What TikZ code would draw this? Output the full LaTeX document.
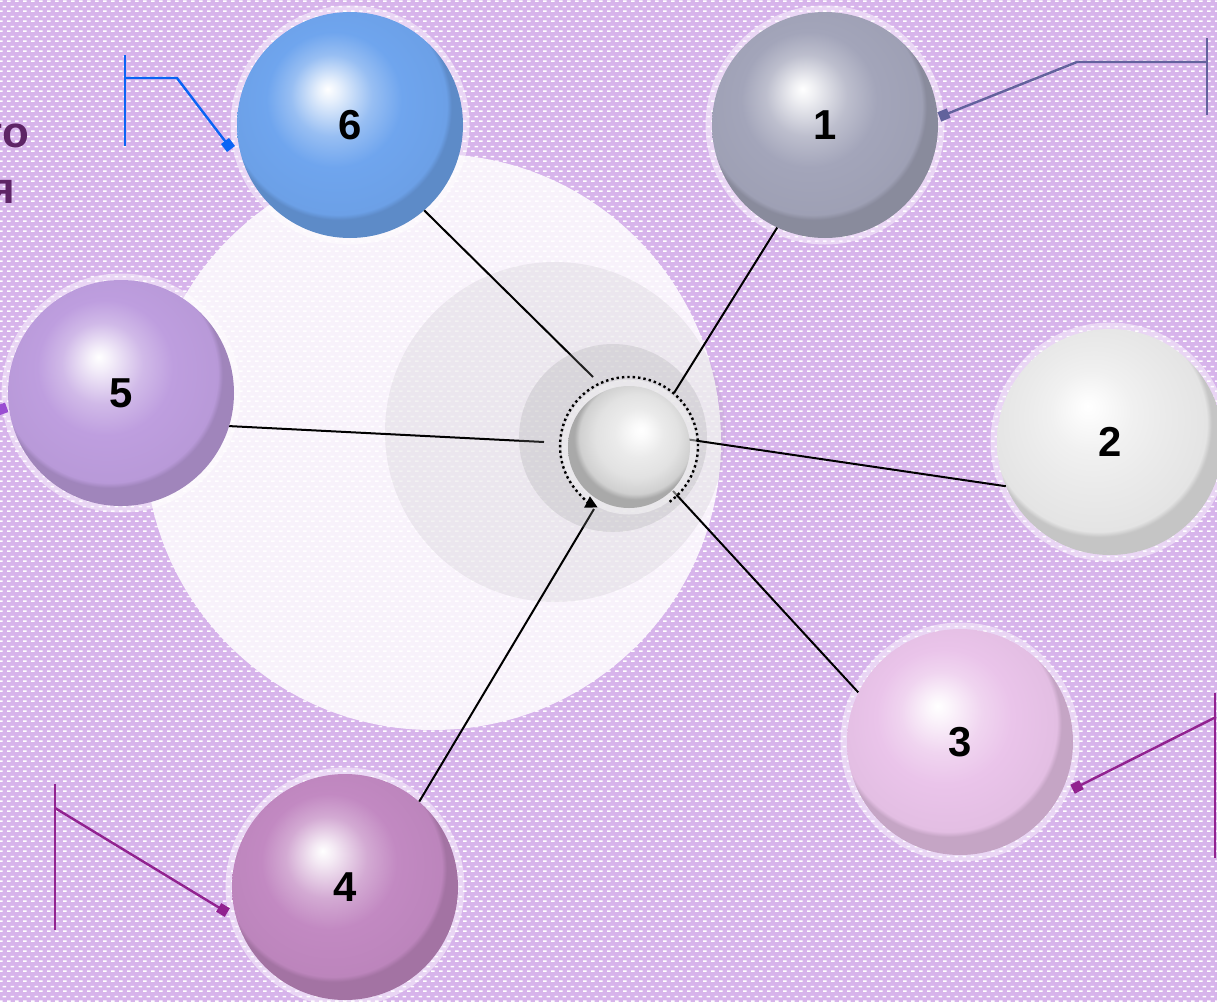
\documentclass[tikz,border=0pt]{standalone}
\usepackage{fontspec}
\setmainfont{Liberation Sans}
\usetikzlibrary{arrows.meta,patterns}

\pgfdeclarepatternformonly{bgdash}{\pgfqpoint{0bp}{0bp}}{\pgfqpoint{8bp}{9.6bp}}{\pgfqpoint{8bp}{9.6bp}}{%
  \pgfpathrectangle{\pgfqpoint{0bp}{0bp}}{\pgfqpoint{4bp}{1.7bp}}%
  \pgfpathrectangle{\pgfqpoint{4bp}{4.8bp}}{\pgfqpoint{4bp}{1.7bp}}%
  \pgfusepath{fill}}

\pgfdeclareradialshading[sphbase]{glossyL}{\pgfqpoint{-5bp}{8bp}}{%
  color(0bp)=(white); color(2.5bp)=(white!82!sphbase); color(9bp)=(sphbase!72!white);
  color(15bp)=(sphbase); color(24bp)=(sphbase!97!black); color(25bp)=(sphbase!84!black);
  color(50bp)=(sphbase!84!black)}
\pgfdeclareradialshading[sphbase]{glossyR}{\pgfqpoint{5bp}{7bp}}{%
  color(0bp)=(white); color(3bp)=(white!85!sphbase); color(10bp)=(sphbase!70!white);
  color(17bp)=(sphbase); color(23bp)=(sphbase!92!black); color(25bp)=(sphbase!75!black);
  color(50bp)=(sphbase!75!black)}

\definecolor{bglav}{HTML}{D7B4EB}
\definecolor{c6}{HTML}{6FA5EE}
\definecolor{c1}{HTML}{A3A5BA}
\definecolor{c2}{HTML}{EBEBEB}
\definecolor{c5}{HTML}{BE9EDF}
\definecolor{c3}{HTML}{EAC4EA}
\definecolor{c4}{HTML}{C289C2}
\definecolor{cc}{HTML}{E2E2E2}
\definecolor{lblue}{HTML}{0A64F5}
\definecolor{lgray}{HTML}{62629C}
\definecolor{lpurp}{HTML}{91228F}
\definecolor{lviol}{HTML}{9A4ED2}
\definecolor{txtp}{HTML}{5E2566}

\tikzset{
  sphcol/.code={\colorlet{sphbase}{#1}},
  halo/.style={preaction={draw=white, draw opacity=0.45, line width=13bp}},
  sphere/.style={circle, minimum size=226bp, inner sep=0pt, halo, shade, shading=glossyL,
    font=\fontsize{42}{48}\selectfont\bfseries, text=black},
  connector/.style={draw=black, line width=2bp},
  callout/.style={line width=2.4bp},
  bar/.style={line width=2.4bp},
  marker/.style={rectangle, minimum size=10bp, inner sep=0pt},
  dotline/.style={line width=2.4bp, dash pattern=on 2.4bp off 3bp},
  sidetext/.style={anchor=base east, inner sep=0pt, text=txtp,
    font=\fontsize{44}{50}\selectfont\bfseries}
}

\begin{document}
\begin{tikzpicture}[x=1bp, y=-1bp]
\useasboundingbox (0,0) rectangle (1217,1002);
\clip (0,0) rectangle (1217,1002);

% background
\fill[bglav] (0,0) rectangle (1217,1002);
\fill[pattern=bgdash, pattern color=white] (0,0) rectangle (1217,1002);

% side texts (cut at the left edge, as in the reference)
\node[sidetext] (t1) at (29,147) {то};
\node[sidetext] (t2) at (15,203) {я};

% backdrop discs
\fill[white, opacity=0.84] (433,442) circle[radius=288];
\fill[gray, opacity=0.10] (555,432) circle[radius=170];

% spheres
\node[sphere, sphcol=c6] (s6) at (350,125) {6};
\node[sphere, sphcol=c1] (s1) at (825,125) {1};
\node[sphere, sphcol=c2] (s2) at (1110,442) {2};
\node[sphere, sphcol=c5] (s5) at (121,393) {5};
\node[sphere, sphcol=c3] (s3) at (960,742) {3};
\node[sphere, sphcol=c4] (s4) at (345,887) {4};

% connector end points near the centre
\coordinate (e6) at (593,377);
\coordinate (e1) at (674,393);
\coordinate (e2) at (685,439);
\coordinate (e5) at (544,442);
\coordinate (e3) at (673,491);
\coordinate (e4) at (594,509);

% these three pass under the darker disc and look grey inside it
\draw[connector] (s6.-49) -- (e6);
\draw[connector] (s5.-17) -- (e5);
\draw[connector] (s4.49) -- (e4);

\fill[gray!80, opacity=0.22] (613,438) circle[radius=94];

\draw[connector] (s1.245) -- (e1);
\draw[connector] (s2.203) -- (e2);
\draw[connector] (s3.154) -- (e3);

% centre sphere
\node[circle, minimum size=122bp, inner sep=0pt, sphcol=cc, halo, shade, shading=glossyR] (c) at (629,447) {};

% dotted circular arrow
\coordinate (d0) at (669.6,501.8);
\draw[dotline, -{Triangle[length=12bp,width=12bp]}] (d0) arc[start angle=54, end angle=-243, radius=69];

% callouts
% 6
\node[marker, fill=lblue, rotate=37] (m6) at (228,145) {};
\coordinate (k6) at (177,78);
\coordinate (h6) at (125,78);
\coordinate (b6a) at (125,55);
\coordinate (b6b) at (125,146);
\draw[callout, lblue] (m6.center) -- (k6) -- (h6);
\draw[bar, lblue] (b6a) -- (b6b);
% 1
\node[marker, fill=lgray, rotate=22] (m1) at (944,115) {};
\coordinate (k1) at (1077,62);
\coordinate (h1) at (1207,62);
\coordinate (b1a) at (1207,38);
\coordinate (b1b) at (1207,115);
\draw[callout, lgray] (m1.center) -- (k1) -- (h1);
\draw[bar, lgray] (b1a) -- (b1b);
% 3
\node[marker, fill=lpurp, rotate=27] (m3) at (1077,787) {};
\coordinate (k3) at (1216,717);
\coordinate (b3a) at (1215,693);
\coordinate (b3b) at (1215,858);
\draw[callout, lpurp] (m3.center) -- (k3);
\draw[bar, lpurp] (b3a) -- (b3b);
% 4
\node[marker, fill=lpurp, rotate=59] (m4) at (223,910) {};
\coordinate (k4) at (55,808);
\coordinate (b4a) at (55,784);
\coordinate (b4b) at (55,930);
\draw[callout, lpurp] (m4.center) -- (k4);
\draw[bar, lpurp] (b4a) -- (b4b);
% 5
\node[marker, fill=lviol, rotate=20] (m5) at (2,409) {};
\coordinate (k5) at (-30,400);
\draw[callout, lviol] (m5.center) -- (k5);
\end{tikzpicture}
\end{document}
